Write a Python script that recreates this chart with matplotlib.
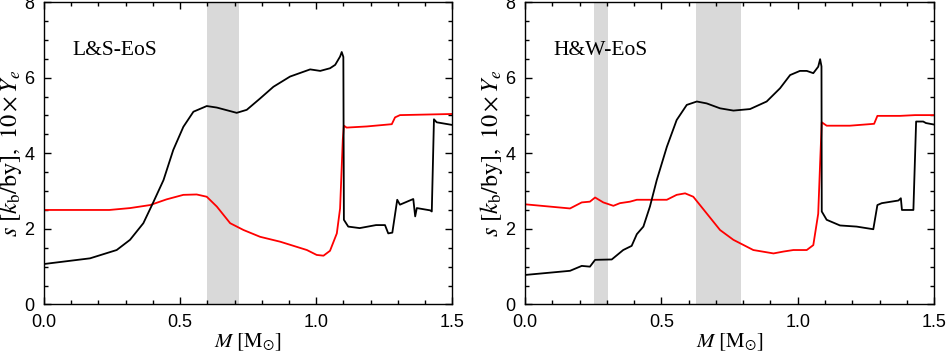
import matplotlib
matplotlib.use("Agg")
import matplotlib.pyplot as plt
from matplotlib.ticker import MultipleLocator, FormatStrFormatter

plt.rcParams["mathtext.fontset"] = "stix"
plt.rcParams["font.family"] = "Liberation Sans"

# left panel: L&S EoS, entropy per baryon (black) and 10*Ye (red)
ls_m_s = [0.0, 0.169, 0.267, 0.316, 0.365, 0.40, 0.439, 0.475, 0.512, 0.549, 0.598,
          0.635, 0.708, 0.745, 0.794, 0.843, 0.904, 0.978, 1.015, 1.051, 1.07, 1.088,
          1.094, 1.10, 1.102, 1.118, 1.16, 1.22, 1.253, 1.265, 1.28, 1.298, 1.308,
          1.357, 1.364, 1.37, 1.419, 1.425, 1.433, 1.443, 1.5]
ls_s = [1.07, 1.22, 1.44, 1.71, 2.15, 2.68, 3.29, 4.09, 4.70, 5.10, 5.25,
        5.21, 5.07, 5.15, 5.45, 5.76, 6.03, 6.22, 6.18, 6.25, 6.34, 6.56,
        6.68, 6.55, 2.24, 2.06, 2.02, 2.10, 2.10, 1.88, 1.90, 2.77, 2.64,
        2.79, 2.33, 2.55, 2.49, 2.46, 4.90, 4.82, 4.75]
ls_m_ye = [0.0, 0.24, 0.316, 0.39, 0.45, 0.512, 0.561, 0.598, 0.635, 0.684, 0.733,
           0.794, 0.868, 0.966, 1.002, 1.027, 1.051, 1.076, 1.088, 1.098, 1.102,
           1.112, 1.186, 1.278, 1.29, 1.308, 1.5]
ls_ye = [2.50, 2.50, 2.55, 2.63, 2.78, 2.90, 2.91, 2.85, 2.59, 2.15, 1.97,
         1.79, 1.66, 1.44, 1.31, 1.29, 1.42, 1.88, 2.54, 4.37, 4.73,
         4.68, 4.71, 4.77, 4.95, 5.01, 5.04]
ls_bands = [(0.60, 0.715)]

# right panel: H&W EoS
hw_m_s = [0.0, 0.165, 0.208, 0.238, 0.257, 0.318, 0.36, 0.391, 0.41, 0.434, 0.458,
          0.483, 0.52, 0.556, 0.593, 0.63, 0.666, 0.715, 0.764, 0.825, 0.886, 0.935,
          0.972, 1.008, 1.033, 1.057, 1.075, 1.082, 1.087, 1.088, 1.106, 1.155, 1.216,
          1.277, 1.292, 1.308, 1.369, 1.378, 1.382, 1.40, 1.424, 1.434, 1.46, 1.47,
          1.5]
hw_s = [0.78, 0.89, 1.02, 1.00, 1.18, 1.19, 1.44, 1.55, 1.86, 2.06, 2.59,
        3.29, 4.17, 4.88, 5.28, 5.37, 5.32, 5.19, 5.13, 5.17, 5.37, 5.72,
        6.07, 6.18, 6.18, 6.12, 6.29, 6.49, 6.30, 2.46, 2.24, 2.09, 2.06,
        1.99, 2.63, 2.68, 2.75, 2.81, 2.50, 2.50, 2.50, 4.84, 4.84, 4.80,
        4.76]
hw_m_ye = [0.0, 0.165, 0.208, 0.238, 0.257, 0.287, 0.324, 0.348, 0.385, 0.41, 0.52,
           0.556, 0.587, 0.617, 0.666, 0.715, 0.764, 0.837, 0.911, 0.948, 0.984,
           1.033, 1.057, 1.075, 1.082, 1.088, 1.106, 1.191, 1.28, 1.292, 1.375,
           1.43, 1.5]
hw_ye = [2.65, 2.54, 2.70, 2.72, 2.83, 2.70, 2.61, 2.68, 2.72, 2.77, 2.77,
         2.90, 2.94, 2.85, 2.41, 1.97, 1.71, 1.44, 1.35, 1.40, 1.44,
         1.44, 1.57, 2.40, 3.74, 4.82, 4.73, 4.73, 4.78, 4.99, 4.99,
         5.01, 5.01]
hw_bands = [(0.253, 0.303), (0.627, 0.793)]

panels = [
    ("L&S-EoS", ls_m_s, ls_s, ls_m_ye, ls_ye, ls_bands, [0.0465, 0.140, 0.431, 0.854]),
    ("H&W-EoS", hw_m_s, hw_s, hw_m_ye, hw_ye, hw_bands, [0.5544, 0.140, 0.432, 0.854]),
]

fig = plt.figure(figsize=(9.47, 3.54), dpi=100)

for label, m_s, s, m_ye, ye, bands, rect in panels:
    ax = fig.add_axes(rect)
    for lo, hi in bands:
        ax.axvspan(lo, hi, color="#d9d9d9", lw=0, zorder=0)
    ax.plot(m_ye, ye, color="red", lw=1.3, zorder=2)
    ax.plot(m_s, s, color="black", lw=1.3, zorder=3)
    ax.set_xlim(0, 1.5)
    ax.set_ylim(0, 8)
    ax.xaxis.set_major_locator(MultipleLocator(0.5))
    ax.xaxis.set_minor_locator(MultipleLocator(0.1))
    ax.yaxis.set_major_locator(MultipleLocator(2))
    ax.yaxis.set_minor_locator(MultipleLocator(0.5))
    ax.xaxis.set_major_formatter(FormatStrFormatter("%.1f"))
    ax.tick_params(which="both", direction="in", top=True, right=True,
                   labelsize=13, width=1)
    ax.tick_params(which="major", length=5, pad=7)
    ax.tick_params(which="minor", length=3)
    for sp in ax.spines.values():
        sp.set_linewidth(1)
    ax.set_xlabel(r"$M\ [\mathrm{M}_{\odot}]$", fontsize=15, labelpad=0)
    ax.set_ylabel(r"$s\ [k_{\mathrm{b}}/\mathrm{by}],\ 10\times Y_e$", fontsize=17.5, labelpad=0)
    ax.text(0.07, 0.84, label, transform=ax.transAxes, fontsize=15.5,
            family="Liberation Serif", va="center", ha="left")

fig.savefig("out.png", dpi=100)
